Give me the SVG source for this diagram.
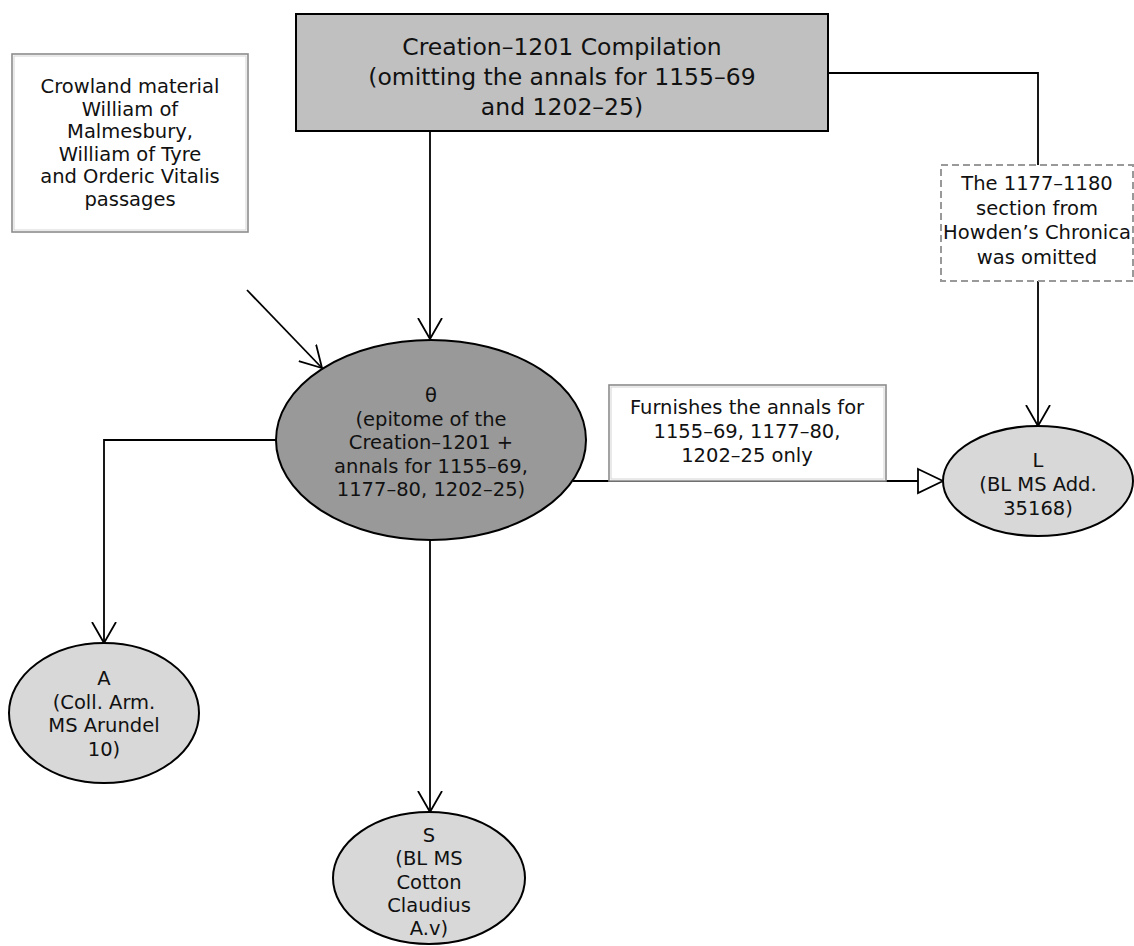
<svg xmlns="http://www.w3.org/2000/svg" width="1134" height="946" viewBox="0 0 1134 946">
  <style>
    text { font-family: "DejaVu Sans", "Liberation Sans", sans-serif; fill: #111; text-anchor: middle; }
    .t19 { font-size: 19.5px; }
    .t24 { font-size: 23.5px; }
    .edge { fill: none; stroke: #000; stroke-width: 1.8; }
    .ms { fill: #d8d8d8; stroke: #000; stroke-width: 2; }
    .note { fill: #fff; stroke: #8c8c8c; stroke-width: 1.6; }
    .inner { fill: none; stroke: #d4d4d4; stroke-width: 1; }
  </style>
  <defs>
    <marker id="vee" markerUnits="userSpaceOnUse" viewBox="0 0 22 26" markerWidth="22" markerHeight="26" refX="21" refY="13" orient="auto">
      <path d="M0,1 L21,13 L0,25" fill="none" stroke="#000" stroke-width="1.8"/>
    </marker>
    <marker id="tri" markerUnits="userSpaceOnUse" viewBox="0 0 27 28" markerWidth="27" markerHeight="28" refX="26" refY="14" orient="auto">
      <path d="M1,2 L26,14 L1,26 Z" fill="#fff" stroke="#000" stroke-width="1.8"/>
    </marker>
  </defs>
  <rect width="1134" height="946" fill="#fff"/>

  <g id="connectors">
    <line class="edge" x1="430" y1="131" x2="430" y2="339" marker-end="url(#vee)"/>
    <line class="edge" x1="247" y1="290" x2="322" y2="368" marker-end="url(#vee)"/>
    <polyline class="edge" points="828,73 1038,73 1038,165"/>
    <line class="edge" x1="1038" y1="281" x2="1038" y2="426" marker-end="url(#vee)"/>
    <polyline class="edge" points="277,440 104,440 104,643" marker-end="url(#vee)"/>
    <line class="edge" x1="430" y1="540" x2="430" y2="812" marker-end="url(#vee)"/>
    <line class="edge" x1="573" y1="481" x2="943" y2="481" marker-end="url(#tri)"/>
  </g>

  <g id="compilation">
    <rect x="296" y="14" width="532" height="117" fill="#c0c0c0" stroke="#000" stroke-width="2"/>
    <text class="t24" x="562" y="55">Creation–1201 Compilation<tspan x="562" dy="30">(omitting the annals for 1155–69</tspan><tspan x="562" dy="30">and 1202–25)</tspan></text>
  </g>

  <g id="crowland">
    <rect class="note" x="12" y="54" width="236" height="178"/>
    <rect class="inner" x="14" y="56" width="232" height="174"/>
    <text class="t19" x="130" y="93">Crowland material<tspan x="130" dy="22.5">William of</tspan><tspan x="130" dy="22.5">Malmesbury,</tspan><tspan x="130" dy="22.5">William of Tyre</tspan><tspan x="130" dy="22.5">and Orderic Vitalis</tspan><tspan x="130" dy="22.5">passages</tspan></text>
  </g>

  <g id="howden">
    <rect x="941" y="165" width="192" height="116" fill="#fff" stroke="#999" stroke-width="2" stroke-dasharray="7,4"/>
    <text class="t19" x="1037" y="190">The 1177–1180<tspan x="1037" dy="24.5">section from</tspan><tspan x="1037" dy="24.5">Howden’s Chronica</tspan><tspan x="1037" dy="24.5">was omitted</tspan></text>
  </g>

  <g id="theta">
    <ellipse cx="431" cy="440" rx="155" ry="100" fill="#999" stroke="#000" stroke-width="2"/>
    <text class="t19" x="431" y="402">θ<tspan x="431" dy="23.5">(epitome of the</tspan><tspan x="431" dy="23.5">Creation–1201 +</tspan><tspan x="431" dy="23.5">annals for 1155–69,</tspan><tspan x="431" dy="23.5">1177–80, 1202–25)</tspan></text>
  </g>

  <g id="furnishes">
    <rect class="note" x="609" y="385" width="277" height="96"/>
    <rect class="inner" x="611" y="387" width="273" height="92"/>
    <text class="t19" x="747" y="414">Furnishes the annals for<tspan x="747" dy="24">1155–69, 1177–80,</tspan><tspan x="747" dy="24">1202–25 only</tspan></text>
  </g>

  <g id="L">
    <ellipse class="ms" cx="1038" cy="481" rx="95" ry="55"/>
    <text class="t19" x="1038" y="467">L<tspan x="1038" dy="24">(BL MS Add.</tspan><tspan x="1038" dy="24">35168)</tspan></text>
  </g>

  <g id="A">
    <ellipse class="ms" cx="104" cy="713" rx="95" ry="70"/>
    <text class="t19" x="104" y="685">A<tspan x="104" dy="23.5">(Coll. Arm.</tspan><tspan x="104" dy="23.5">MS Arundel</tspan><tspan x="104" dy="23.5">10)</tspan></text>
  </g>

  <g id="S">
    <ellipse class="ms" cx="429" cy="878" rx="96" ry="66"/>
    <text class="t19" x="429" y="842">S<tspan x="429" dy="23.3">(BL MS</tspan><tspan x="429" dy="23.3">Cotton</tspan><tspan x="429" dy="23.3">Claudius</tspan><tspan x="429" dy="23.3">A.v)</tspan></text>
  </g>
</svg>
